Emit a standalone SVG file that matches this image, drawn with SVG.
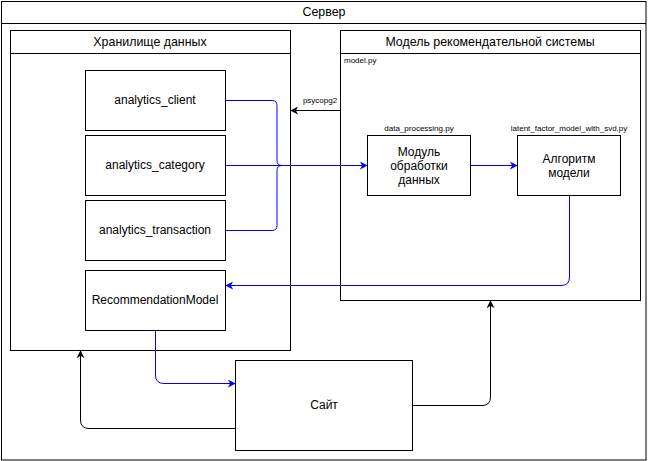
<svg xmlns="http://www.w3.org/2000/svg" width="648" height="461" viewBox="0 0 648 461">
<style>
.box{fill:#fff;stroke:#000;stroke-width:1}
.t{font-family:"Liberation Sans",Arial,sans-serif;font-size:12px;fill:#000;text-anchor:middle;dominant-baseline:central}
.h{font-size:12.4px}
.s{font-family:"Liberation Sans",Arial,sans-serif;font-size:8px;fill:#000}
.b{fill:none;stroke:#0000ff;stroke-width:1}
.k{fill:none;stroke:#000;stroke-width:1}
</style>
<defs>
<marker id="ab" viewBox="0 0 10 10" refX="9" refY="5" markerWidth="8" markerHeight="8" markerUnits="userSpaceOnUse" orient="auto"><path d="M0,0 L10,5 L0,10 L3,5 z" fill="#0000ff"/></marker>
<marker id="ak" viewBox="0 0 10 10" refX="9" refY="5" markerWidth="8" markerHeight="8" markerUnits="userSpaceOnUse" orient="auto"><path d="M0,0 L10,5 L0,10 L3,5 z" fill="#000"/></marker>
</defs>
<g id="server">
<rect class="box" x="1.5" y="1.5" width="644.5" height="458.5"/>
<line class="k" x1="1.5" y1="23.5" x2="646" y2="23.5"/>
<text class="t h" x="324" y="12">Сервер</text>
</g>
<g id="storage">
<rect class="box" x="10.5" y="30.5" width="280" height="320"/>
<line class="k" x1="10.5" y1="53.5" x2="290.5" y2="53.5"/>
<text class="t h" x="150" y="42">Хранилище данных</text>
</g>
<g id="model">
<rect class="box" x="340.5" y="30.5" width="300" height="270"/>
<line class="k" x1="340.5" y1="53.5" x2="640.5" y2="53.5"/>
<text class="t h" x="490" y="42">Модель рекомендательной системы</text>
<text class="s" x="344" y="63">model.py</text>
</g>
<g id="analytics_client">
<rect class="box" x="85.5" y="70.5" width="140" height="60"/>
<text class="t" x="155" y="100">analytics_client</text>
</g>
<g id="analytics_category">
<rect class="box" x="85.5" y="135.5" width="140" height="60"/>
<text class="t" x="155" y="165">analytics_category</text>
</g>
<g id="analytics_transaction">
<rect class="box" x="85.5" y="200.5" width="140" height="60"/>
<text class="t" x="155" y="230">analytics_transaction</text>
</g>
<g id="recommendation_model">
<rect class="box" x="85.5" y="270.5" width="140" height="60"/>
<text class="t" x="155" y="300">RecommendationModel</text>
</g>
<g id="processing">
<rect class="box" x="367.5" y="135.5" width="103" height="60"/>
<text class="t" x="419" y="152">Модуль</text>
<text class="t" x="419" y="166">обработки</text>
<text class="t" x="419" y="180">данных</text>
<text class="s" x="419" y="131" text-anchor="middle">data_processing.py</text>
</g>
<g id="algorithm">
<rect class="box" x="517.5" y="135.5" width="103" height="60"/>
<text class="t" x="569" y="159">Алгоритм</text>
<text class="t" x="569" y="173">модели</text>
<text class="s" x="569" y="131" text-anchor="middle">latent_factor_model_with_svd.py</text>
</g>
<g id="site">
<rect class="box" x="235.5" y="360.5" width="177" height="90"/>
<text class="t" x="324" y="405">Сайт</text>
</g>
<g id="connectors">
<path class="b" d="M226,100.5 H272 Q277,100.5 277,105.5 V160.5 Q277,165.5 282,165.5"/>
<path class="b" d="M226,230.5 H272 Q277,230.5 277,225.5 V170.5 Q277,165.5 282,165.5"/>
<path class="b" d="M226,165.5 H367" marker-end="url(#ab)"/>
<path class="k" d="M340,110.5 H291" marker-end="url(#ak)"/>
<text class="s" x="320" y="103" text-anchor="middle">psycopg2</text>
<path class="b" d="M471,165.5 H517" marker-end="url(#ab)"/>
<path class="b" d="M569.5,196 V277 Q569.5,285.5 561,285.5 H226" marker-end="url(#ab)"/>
<path class="b" d="M155.5,331 V375 Q155.5,383.5 164,383.5 H235" marker-end="url(#ab)"/>
<path class="k" d="M235,428.5 H89 Q80.5,428.5 80.5,420 V351" marker-end="url(#ak)"/>
<path class="k" d="M413,405.5 H482 Q490.5,405.5 490.5,397 V301" marker-end="url(#ak)"/>
</g>
</svg>
